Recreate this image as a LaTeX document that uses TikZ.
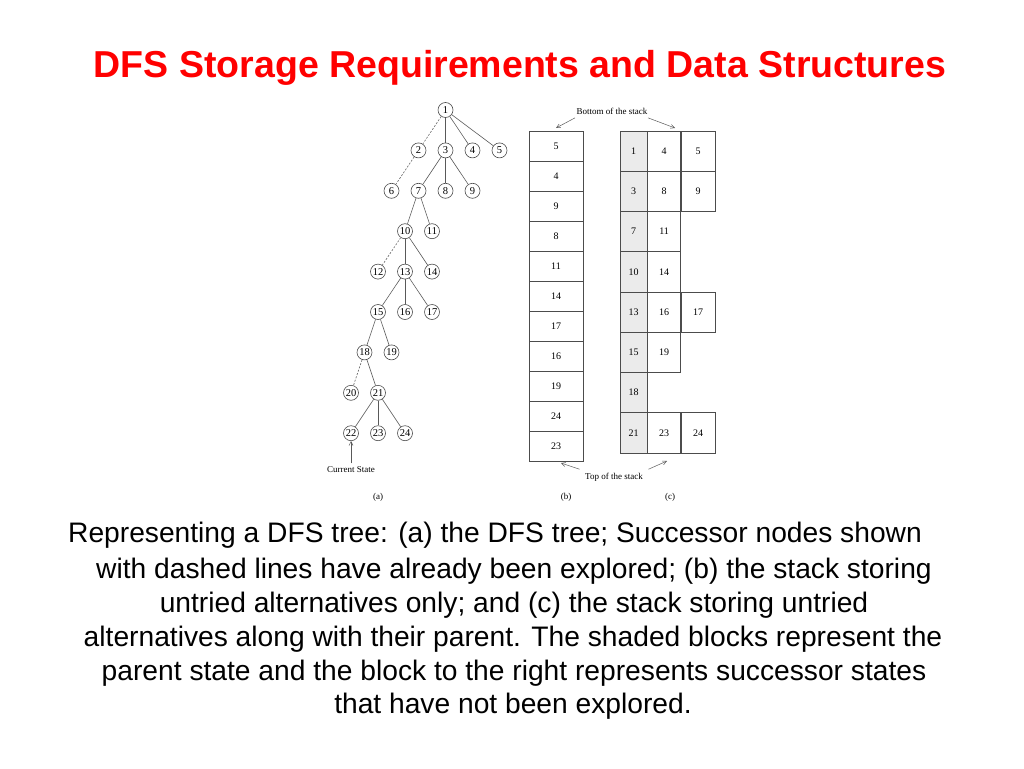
\documentclass[tikz,border=0pt]{standalone}
\usepackage{fontspec}
\setmainfont{Liberation Serif}
\newfontfamily\slidefont{Liberation Sans}
\usepackage{xcolor}
\usetikzlibrary{positioning}
\usetikzlibrary{arrows.meta}
\usetikzlibrary{shapes.geometric}

\begin{document}
\begin{tikzpicture}[
  x=1pt, y=-1pt,
  line width=0.6pt,
  font=\fontsize{9}{10}\selectfont
]
\tikzset{
    treenode/.style = {circle, draw=black!70, inner sep=0pt, minimum size=15pt, fill=white, font=\fontsize{10.5}{11}\selectfont},
    treeedge/.style = {draw=black!65},
    doneedge/.style = {draw=black!60, dash pattern=on 2pt off 1.5pt},
    stackcell/.style = {rectangle, draw=black!70, minimum width=54pt, minimum height=30pt, inner sep=0pt, font=\fontsize{10}{11}\selectfont},
    parentcell/.style = {rectangle, draw=black!70, fill=black!8, minimum width=27pt, minimum height=40.25pt, inner sep=0pt, font=\fontsize{10}{11}\selectfont},
    succcell/.style = {rectangle, draw=black!70, minimum height=40.25pt, inner sep=0pt, font=\fontsize{10}{11}\selectfont},
    pointer/.style = {-{Straight Barb[length=4pt,width=4pt]}, draw=black!65, line width=0.5pt},
    caption/.style = {font=\slidefont\fontsize{28.2}{32}\selectfont}
}
\useasboundingbox (0,0) rectangle (1024,768);

% title
\node[font=\slidefont\bfseries\fontsize{37.5}{42}\selectfont, text=red] (title) at (520,68) {DFS Storage Requirements and Data Structures};

% (a) the tree
\foreach \n/\c/\r in {1/7/0, 2/5/1, 3/7/1, 4/9/1, 5/11/1, 6/3/2, 7/5/2, 8/7/2, 9/9/2,
  10/4/3, 11/6/3, 12/2/4, 13/4/4, 14/6/4, 15/2/5, 16/4/5, 17/6/5,
  18/1/6, 19/3/6, 20/0/7, 21/2/7, 22/0/8, 23/2/8, 24/4/8}
  \node[treenode] (n\n) at ({351+13.5*\c},{110+40.4*\r}) {\n};
\foreach \a/\b in {1/3, 1/4, 1/5, 3/7, 3/8, 3/9, 7/10, 7/11, 10/13, 10/14,
  13/15, 13/16, 13/17, 15/18, 15/19, 18/21, 21/22, 21/23, 21/24}
  \draw[treeedge] (n\a) -- (n\b);
\foreach \a/\b in {1/2, 2/6, 10/12, 18/20}
  \draw[doneedge] (n\a) -- (n\b);
\node (current) at (351,470) {Current State};
\draw[pointer] (current.north) -- (n22.south);
\node (capa) at (378,497) {(a)};

% (b) stack of untried alternatives
\foreach \v [count=\i] in {5,4,9,8,11,14,17,16,19,24,23}
  \node[stackcell] (b\i) at ({556},{116+30*\i}) {\v};
\node (capb) at (566,497) {(b)};

% (c) stack with parents
\foreach \p [count=\r] in {1, 3, 7, 10, 13, 15, 18, 21}
  \node[parentcell] (p\r) at ({633.5},{131+40.25*\r-20.125}) {\p};
\foreach \r/\s in {1/4, 2/8, 3/11, 4/14, 5/16, 6/19, 8/23}
  \node[succcell, minimum width=33pt, right=0pt of p\r] (s\r) {\s};
\foreach \r/\t in {1/5, 2/9, 5/17, 8/24}
  \node[succcell, minimum width=34pt, right=0pt of s\r] (t\r) {\t};
\node (capc) at (670,497) {(c)};

% stack ends
\node (bottomlbl) at (612,111) {Bottom of the stack};
\coordinate (bottomL) at (556,128);
\coordinate (bottomR) at (675,128);
\draw[pointer] ([xshift=2pt]bottomlbl.south west) -- (bottomL);
\draw[pointer] ([xshift=-3pt]bottomlbl.south east) -- (bottomR);
\node (toplbl) at (614,477) {Top of the stack};
\coordinate (topL) at (561,463);
\coordinate (topR) at (667,461);
\draw[pointer] ([xshift=-2pt]toplbl.north west) -- (topL);
\draw[pointer] ([xshift=2pt]toplbl.north east) -- (topR);

% caption
\node[caption] (line1) at (495,535) {Representing a DFS tree: (a) the DFS tree; Successor nodes shown};
\node[caption] (line2) at (514,571) {with dashed lines have already been explored; (b) the stack storing};
\node[caption] (line3) at (514,605) {untried alternatives only; and (c) the stack storing untried};
\node[caption] (line4) at (513,639) {alternatives along with their parent. The shaded blocks represent the};
\node[caption] (line5) at (514,673) {parent state and the block to the right represents successor states};
\node[caption] (line6) at (513,706) {that have not been explored.};
\end{tikzpicture}
\end{document}
